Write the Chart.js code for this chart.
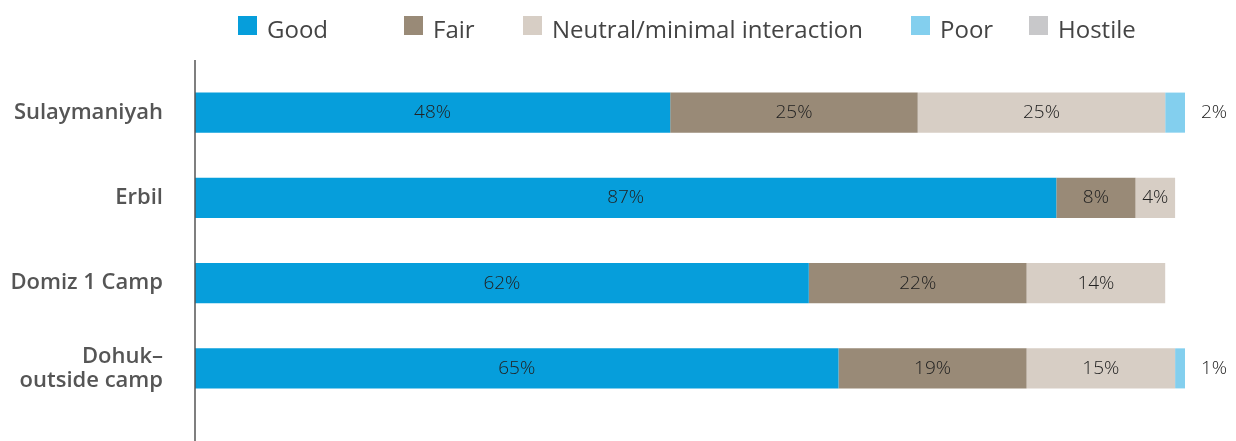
<!DOCTYPE html>
<html>
<head>
<meta charset="utf-8">
<script src="https://cdn.jsdelivr.net/npm/chart.js@4/dist/chart.umd.min.js"></script>
<style>
    body { margin: 0; background: #fff; }
    .wrap { position: relative; width: 1236px; height: 441px; }
    #legend { position: absolute; top: 0; left: 0; margin: 0; padding: 0; list-style: none; font-family: "Open Sans", sans-serif; font-size: 24px; color: #444; }
    #legend li { position: absolute; top: 13px; display: flex; align-items: center; height: 30px; white-space: nowrap; }
    #legend span.box { display: inline-block; width: 19px; height: 19px; margin-right: 10px; margin-top: -6px; }
</style>
</head>
<body>
<div class="wrap">
    <canvas id="surveyChart" width="1236" height="441"></canvas>
    <ul id="legend"></ul>
</div>
<script>
var categories = ["Sulaymaniyah", "Erbil", "Domiz 1 Camp", ["Dohuk–", "outside camp"]];
var seriesNames = ["Good", "Fair", "Neutral/minimal interaction", "Poor", "Hostile"];
var good = [48, 87, 62, 65];
var fair = [25, 8, 22, 19];
var neutral = [25, 4, 14, 15];
var poor = [2, 0, 0, 1];
var hostile = [0, 0, 0, 0];
var colors = ["#069edb", "#998a77", "#d7cec5", "#83cfee", "#c8c8ca"];
var legendX = [238, 404, 523, 911, 1029];

// bar value labels
var valueLabels = {
    id: 'valueLabels',
    afterDatasetsDraw: function(chart) {
        var ctx = chart.ctx;
        ctx.save();
        ctx.font = '300 19px "Open Sans", sans-serif';
        ctx.fillStyle = '#222';
        ctx.textBaseline = 'middle';
        chart.data.datasets.forEach(function(ds, i) {
            var meta = chart.getDatasetMeta(i);
            meta.data.forEach(function(bar, j) {
                var v = ds.data[j];
                if (!v) return;
                if (i == 3) {
                    ctx.textAlign = 'left';
                    ctx.fillText(v + '%', bar.x + 16, bar.y);
                } else {
                    ctx.textAlign = 'center';
                    ctx.fillText(v + '%', (bar.x + bar.base) / 2, bar.y);
                }
            });
        });
        ctx.restore();
    }
};

// vertical axis line
var axisLine = {
    id: 'axisLine',
    afterDraw: function(chart) {
        var ctx = chart.ctx;
        var x = chart.chartArea.left;
        ctx.save();
        ctx.strokeStyle = '#555';
        ctx.lineWidth = 1.5;
        ctx.beginPath();
        ctx.moveTo(x, 60);
        ctx.lineTo(x, 441);
        ctx.stroke();
        ctx.restore();
    }
};

var data = [good, fair, neutral, poor, hostile];
var ctx = document.getElementById('surveyChart').getContext('2d');
var chart = new Chart(ctx, {
    type: 'bar',
    data: {
        labels: categories,
        datasets: seriesNames.map(function(name, i) {
            return {
                label: name,
                data: data[i],
                backgroundColor: colors[i],
                categoryPercentage: 1,
                barPercentage: 0.47
            };
        })
    },
    options: {
        indexAxis: 'y',
        responsive: false,
        animation: false,
        layout: { padding: { top: 70, bottom: 30, right: 51, left: 0 } },
        plugins: {
            legend: { display: false },
            tooltip: { enabled: false }
        },
        scales: {
            x: {
                stacked: true,
                min: 0,
                max: 100,
                display: false
            },
            y: {
                stacked: true,
                grid: { display: false },
                border: { display: false },
                afterFit: function(scale) {
                    scale.width = 195;
                    // let layout padding alone decide the plot height
                    scale.paddingTop = 0;
                    scale.paddingBottom = 0;
                },
                ticks: {
                    padding: 24,
                    color: '#555',
                    font: { family: '"Open Sans", sans-serif', size: 22, weight: '600', lineHeight: 1.1 }
                }
            }
        }
    },
    plugins: [valueLabels, axisLine]
});

// legend
var legend = document.getElementById('legend');
seriesNames.forEach(function(name, i) {
    var li = document.createElement('li');
    li.style.left = legendX[i] + 'px';
    li.innerHTML = '<span class="box" style="background:' + colors[i] + '"></span>' + name;
    legend.appendChild(li);
});
</script>
</body>
</html>
